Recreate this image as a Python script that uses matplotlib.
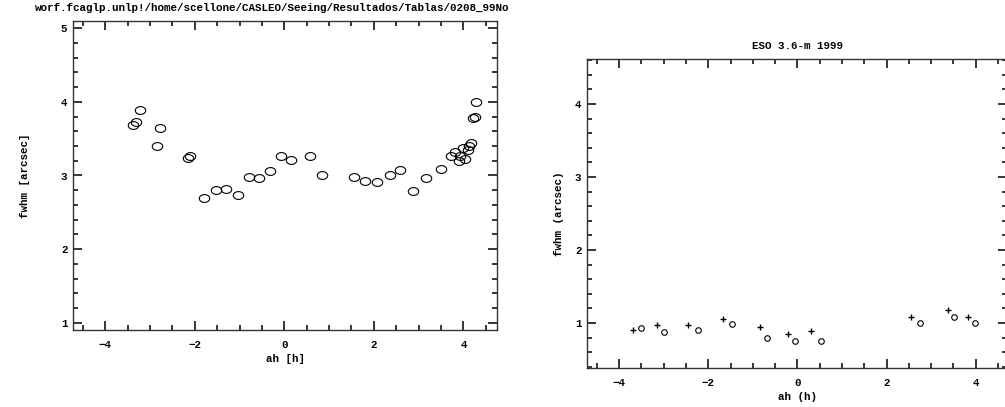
import numpy as np
import matplotlib
matplotlib.use("Agg")
import matplotlib.pyplot as plt
from matplotlib.path import Path
from matplotlib.ticker import MultipleLocator

# left panel: CASLEO seeing vs hour angle
casleo_ah = [-3.37, -3.31, -3.23, -2.78, -2.84, -2.16, -2.10, -1.80, -1.52, -1.30,
             -1.04, -0.79, -0.56, -0.33, -0.07, 0.16, 0.57, 0.85, 1.55, 1.80,
             2.06, 2.35, 2.59, 2.87, 3.17, 3.49, 3.72, 3.82, 3.90, 3.93,
             3.98, 4.04, 4.10, 4.13, 4.16, 4.21, 4.25, 4.29]
casleo_fwhm = [3.68, 3.72, 3.89, 3.64, 3.40, 3.24, 3.26, 2.70, 2.80, 2.82,
               2.73, 2.98, 2.96, 3.06, 3.26, 3.21, 3.26, 3.00, 2.98, 2.92,
               2.91, 3.01, 3.08, 2.79, 2.97, 3.09, 3.26, 3.32, 3.20, 3.26,
               3.37, 3.22, 3.35, 3.40, 3.44, 3.78, 3.80, 3.99]

# right panel: ESO 3.6-m, two series
eso_plus_ah = [-3.68, -3.14, -2.46, -1.68, -0.84, -0.21, 0.30, 2.54, 3.37, 3.83]
eso_plus_fwhm = [0.91, 0.97, 0.97, 1.05, 0.94, 0.85, 0.89, 1.09, 1.18, 1.09]
eso_circ_ah = [-3.51, -2.99, -2.23, -1.46, -0.69, -0.06, 0.52, 2.75, 3.51, 3.98]
eso_circ_fwhm = [0.93, 0.88, 0.90, 0.99, 0.80, 0.76, 0.76, 1.00, 1.08, 1.00]

FONT = dict(family="Liberation Mono", weight="bold", size=7.8)

# slightly flattened circle, like the original plotting package
t = np.linspace(0, 2 * np.pi, 60)
ellipse = Path(np.column_stack([np.cos(t), 0.75 * np.sin(t)]), closed=True)


def style_axes(ax, xlim, ylim):
    ax.set_xlim(xlim)
    ax.set_ylim(ylim)
    ax.xaxis.set_major_locator(MultipleLocator(2))
    ax.xaxis.set_minor_locator(MultipleLocator(0.5))
    ax.yaxis.set_major_locator(MultipleLocator(1))
    ax.yaxis.set_minor_locator(MultipleLocator(0.2))
    ax.tick_params(which="both", direction="in", top=True, right=True,
                   color="black", width=1.1, labelsize=FONT["size"])
    ax.tick_params(axis="x", which="both", pad=7)
    ax.tick_params(axis="y", which="both", pad=4)
    ax.tick_params(which="major", length=6.5)
    ax.tick_params(which="minor", length=3.5)
    for lab in ax.get_xticklabels() + ax.get_yticklabels():
        lab.set_fontfamily(FONT["family"])
        lab.set_fontweight("bold")
    for sp in ax.spines.values():
        sp.set_linewidth(1.0)
        sp.set_color("#333333")


fig = plt.figure(figsize=(10.05, 4.07), dpi=100)

ax1 = fig.add_axes([73 / 1005, 1 - 330 / 407, 424 / 1005, 309 / 407])
ax1.plot(casleo_ah, casleo_fwhm, linestyle="none", marker=ellipse,
         markersize=7.5, markerfacecolor="none", markeredgecolor="black",
         markeredgewidth=0.8)
style_axes(ax1, (-4.72, 4.75), (0.905, 5.095))
ax1.set_xlabel("ah [h]", fontdict=FONT, labelpad=3)
ax1.set_ylabel("fwhm [arcsec]", fontdict=FONT, labelpad=22)
fig.text(35 / 1005, 1 - 8 / 407,
         "worf.fcaglp.unlp!/home/scellone/CASLEO/Seeing/Resultados/Tablas/0208_99No",
         ha="left", va="center", fontdict=FONT)

ax2 = fig.add_axes([587 / 1005, 1 - 368 / 407, 420 / 1005, 309 / 407])
ax2.plot(eso_plus_ah, eso_plus_fwhm, linestyle="none", marker="+",
         markersize=5, markeredgecolor="black", markeredgewidth=1.0)
ax2.plot(eso_circ_ah, eso_circ_fwhm, linestyle="none", marker="o",
         markersize=4, markerfacecolor="none", markeredgecolor="black",
         markeredgewidth=0.8)
style_axes(ax2, (-4.72, 4.70), (0.385, 4.615))
ax2.set_xlabel("ah (h)", fontdict=FONT, labelpad=3)
ax2.set_ylabel("fwhm (arcsec)", fontdict=FONT, labelpad=8)
ax2.set_title("ESO 3.6-m 1999", fontdict=FONT, pad=7)

fig.savefig("out.png", dpi=100)
